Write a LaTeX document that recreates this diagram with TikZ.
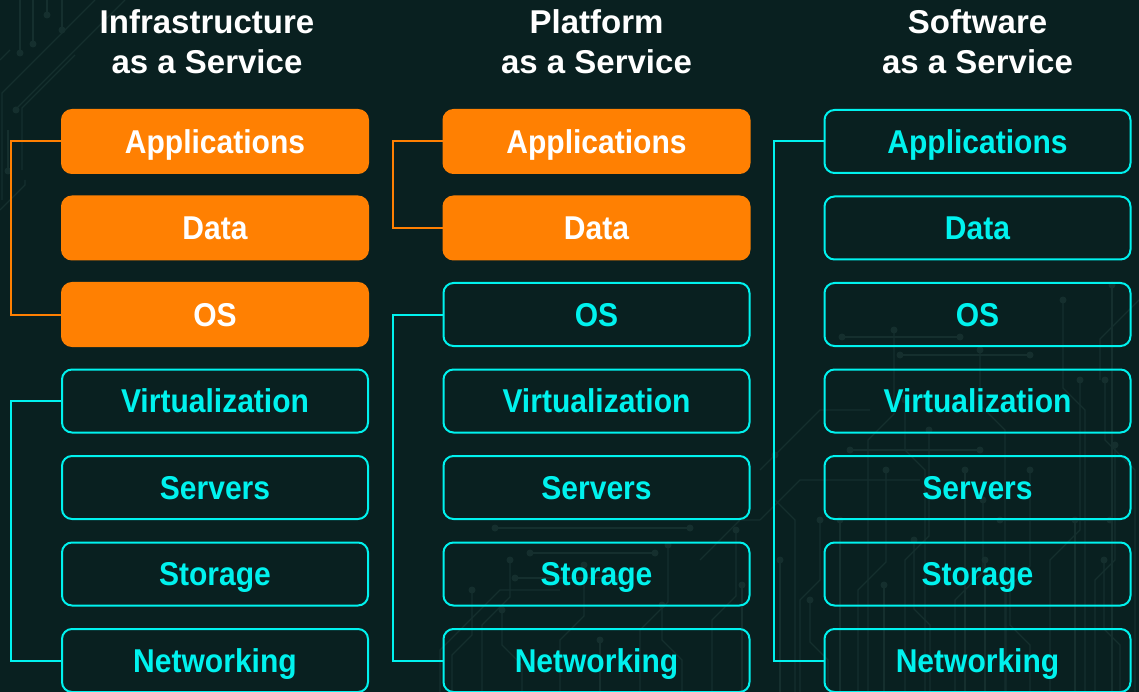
\documentclass[tikz,border=0pt]{standalone}
\usepackage{fontspec}
\setmainfont[FakeStretch=0.91]{Liberation Sans}
\newfontfamily\headfont[FakeStretch=1.0]{Liberation Sans}
\definecolor{bg}{RGB}{9,32,32}
\definecolor{trace}{RGB}{21,47,46}
\definecolor{orng}{RGB}{255,128,2}
\definecolor{cyn}{RGB}{0,242,238}
\begin{document}
\begin{tikzpicture}[x=1pt,y=-1pt,
  label font/.style={font=\fontsize{33}{40}\selectfont\bfseries},
  layer/.style={label font, rounded corners=10pt, line width=2pt,
    minimum width=306pt, minimum height=63pt, inner sep=0pt,
    text height=23.6pt, text depth=0pt},
  filled/.style={layer, fill=orng, draw=orng, text=white},
  outlined/.style={layer, draw=cyn, text=cyn},
  heading/.style={font=\headfont\fontsize{33}{40}\selectfont\bfseries,
    text=white, anchor=base, inner sep=0pt},
  obracket/.style={draw=orng, line width=2pt},
  cbracket/.style={draw=cyn, line width=2pt},
  wire/.style={draw=trace, line width=1.3pt},
  pad/.style={fill=trace}]

% canvas
\useasboundingbox (0,0) rectangle (1139,692);
\fill[bg] (0,0) rectangle (1139,692);

% faint circuit-board traces
\begin{scope}
  % upper left corner
  \draw[wire] (20,0) -- (20,53);  \fill[pad] (20,53) circle (3.5);
  \draw[wire] (33,0) -- (33,44);  \fill[pad] (33,44) circle (3.5);
  \draw[wire] (47,0) -- (47,15);  \fill[pad] (47,15) circle (3.5);
  \draw[wire] (62,0) -- (62,30);  \fill[pad] (62,30) circle (3.5);
  \draw[wire] (95,0) -- (2,93) -- (2,200);
  \draw[wire] (125,0) -- (16,109) -- (16,110);  \fill[pad] (16,110) circle (3.5);
  \draw[wire] (75,55) -- (22,108) -- (22,170); \fill[pad] (8,171) circle (3.5);
  \draw[wire] (8,130) -- (8,171);
  \draw[wire] (25,180) -- (25,185) -- (0,210);
  \draw[wire] (0,60) -- (10,50);
  % lower right area
  \foreach \x/\ya/\d/\yb in {
      780/640/0/560, 800/600/20/520, 828/660/-18/600, 858/590/28/470,
      884/650/0/585, 905/560/24/430, 930/625/-16/540, 955/600/28/500,
      985/655/0/560, 1006/590/24/470, 1030/645/-20/585, 1050/560/30/380,
      1075/625/0/520, 1095/580/20/445, 1120/645/-16/560, 795/520/-20/455,
      868/440/26/330, 1085/410/-22/300, 1112/340/0/285, 925/470/-20/400,
      1005/430/-25/350, 1135/470/-30/380, 965/520/0/470, 840/560/0/520}
  {
    \draw[wire] (\x,692) -- (\x,\ya) -- ({\x+\d},{\ya-abs(\d)}) -- ({\x+\d},\yb);
    \fill[pad] ({\x+\d},\yb) circle (3.5);
  }
  % lower middle area
  \foreach \x/\ya/\d/\yb in {
      452/655/20/590, 482/625/28/560, 522/665/-20/610, 560/640/24/565,
      640/630/28/545, 682/660/-20/605, 712/620/24/530, 742/650/0/585,
      600/692/0/640}
  {
    \draw[wire] (\x,692) -- (\x,\ya) -- ({\x+\d},{\ya-abs(\d)}) -- ({\x+\d},\yb);
    \fill[pad] ({\x+\d},\yb) circle (3.5);
  }
  % horizontal runs with end pads
  \foreach \xa/\xb/\y in {495/690/528, 530/655/553, 515/615/578, 842/960/337,
                          900/1030/355, 850/980/450, 1000/1110/520}
  {
    \draw[wire] (\xa,\y) -- (\xb,\y);
    \fill[pad] (\xa,\y) circle (3.5);
    \fill[pad] (\xb,\y) circle (3.5);
  }
  % diagonal runs
  \draw[wire] (760,470) -- (820,410) -- (870,410);
  \draw[wire] (760,520) -- (800,480) -- (920,480);
  \draw[wire] (1139,300) -- (1100,339) -- (1100,380);
  \draw[wire] (440,692) -- (440,650) -- (500,590) -- (560,590);
  \draw[wire] (700,560) -- (740,520) -- (760,520);
\end{scope}

% column headings
\node[heading] (h1a) at (207,34) {Infrastructure};
\node[heading] (h1b) at (207,74) {as a Service};
\node[heading] (h2a) at (596.5,34) {Platform};
\node[heading] (h2b) at (596.5,74) {as a Service};
\node[heading] (h3a) at (977.5,34) {Software};
\node[heading] (h3b) at (977.5,74) {as a Service};

% Infrastructure as a Service
\node[filled]   (i1) at (215,141.5) {Applications};
\node[filled]   (i2) at (215,228)   {Data};
\node[filled]   (i3) at (215,314.5) {OS};
\node[outlined] (i4) at (215,401)   {Virtualization};
\node[outlined] (i5) at (215,487.5) {Servers};
\node[outlined] (i6) at (215,574)   {Storage};
\node[outlined] (i7) at (215,660.5) {Networking};

% Platform as a Service
\node[filled]   (p1) at (596.5,141.5) {Applications};
\node[filled]   (p2) at (596.5,228)   {Data};
\node[outlined] (p3) at (596.5,314.5) {OS};
\node[outlined] (p4) at (596.5,401)   {Virtualization};
\node[outlined] (p5) at (596.5,487.5) {Servers};
\node[outlined] (p6) at (596.5,574)   {Storage};
\node[outlined] (p7) at (596.5,660.5) {Networking};

% Software as a Service
\node[outlined] (s1) at (977.5,141.5) {Applications};
\node[outlined] (s2) at (977.5,228)   {Data};
\node[outlined] (s3) at (977.5,314.5) {OS};
\node[outlined] (s4) at (977.5,401)   {Virtualization};
\node[outlined] (s5) at (977.5,487.5) {Servers};
\node[outlined] (s6) at (977.5,574)   {Storage};
\node[outlined] (s7) at (977.5,660.5) {Networking};

% brackets grouping the layers
\draw[obracket] (i1.west) -- ++(-50,0) |- (i3.west);
\draw[cbracket] (i4.west) -- ++(-50,0) |- (i7.west);
\draw[obracket] (p1.west) -- ++(-50,0) |- (p2.west);
\draw[cbracket] (p3.west) -- ++(-50,0) |- (p7.west);
\draw[cbracket] (s1.west) -- ++(-50,0) |- (s7.west);
\end{tikzpicture}
\end{document}
